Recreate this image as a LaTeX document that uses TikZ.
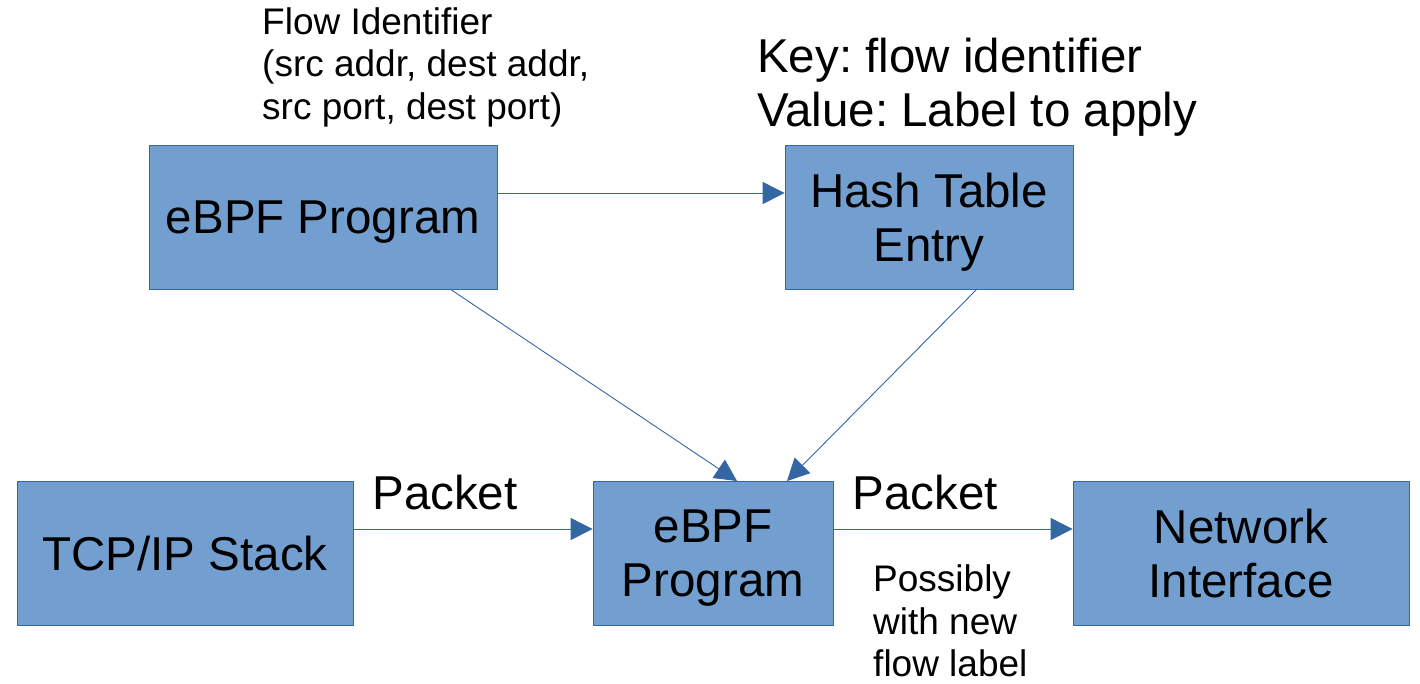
\documentclass[tikz,border=0pt]{standalone}
\usepackage{fontspec}
\setmainfont{Liberation Sans}
\usetikzlibrary{arrows.meta}
\definecolor{boxfill}{HTML}{729FCF}
\definecolor{boxline}{HTML}{3465A4}
\definecolor{conn}{HTML}{3465A4}
\begin{document}
\frenchspacing
\begin{tikzpicture}[x=1pt,y=-1pt,
  bigfont/.style={font=\fontsize{47.5pt}{54pt}\selectfont\frenchspacing},
  smallfont/.style={font=\fontsize{37pt}{42.5pt}\selectfont\frenchspacing},
  blk/.style={draw=boxline, line width=0.8pt, fill=boxfill, inner sep=0pt, align=center, text depth=0pt, bigfont},
  conn/.style={draw=conn, line width=0.9pt, -{Triangle[length=22pt,width=22pt]}},
  txt/.style={inner sep=0pt, align=left}]
\useasboundingbox (0,0) rectangle (1420,683);
% boxes
\node[blk, minimum width=348pt, minimum height=144pt] (ebpf1) at (323,217) {eBPF Program};
\node[blk, minimum width=288pt, minimum height=144pt] (hash) at (929,217) {Hash Table\\Entry};
\node[blk, minimum width=336pt, minimum height=144pt] (tcp) at (185,553) {TCP/IP Stack};
\node[blk, minimum width=240pt, minimum height=144pt] (ebpf2) at (713,553) {eBPF\\Program};
\node[blk, minimum width=336pt, minimum height=144pt] (nic) at (1241,553) {Network\\Interface};
% texts
\node[txt, smallfont, anchor=west] (flowid) at (262,67) {Flow Identifier\\(src addr, dest addr,\\src port, dest port)};
\node[txt, bigfont, anchor=west] (keyval) at (757,87) {Key: flow identifier\\Value: Label to apply};
\node[txt, bigfont] (pk1) at (445,493) {Packet};
\node[txt, bigfont] (pk2) at (925,493) {Packet};
\node[txt, smallfont, anchor=west] (poss) at (873,621) {Possibly\\with new\\flow label};
% connectors
\coordinate (a1) at (450,289);
\coordinate (a2) at (737,481);
\coordinate (b1) at (977,289);
\coordinate (b2) at (787,481);
\draw[conn] (ebpf1.east |- 0,193) -- (hash.west |- 0,193);
\draw[conn] (a1) -- (a2);
\draw[conn] (b1) -- (b2);
\draw[conn] (tcp.east |- 0,529) -- (ebpf2.west |- 0,529);
\draw[conn] (ebpf2.east |- 0,529) -- (nic.west |- 0,529);
\end{tikzpicture}
\end{document}
